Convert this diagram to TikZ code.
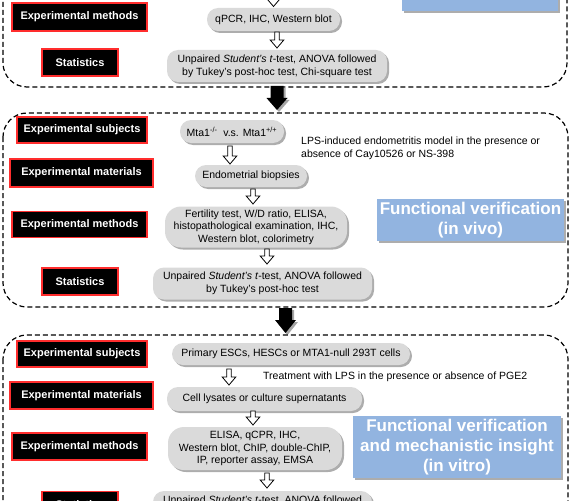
\documentclass[tikz,border=0pt]{standalone}
\usepackage{fontspec}
\setmainfont{Liberation Sans}
\usetikzlibrary{shadows}
\definecolor{redb}{RGB}{255,45,45}
\definecolor{pillgray}{RGB}{218,218,218}
\definecolor{bluebox}{RGB}{146,180,224}
\newcommand\harrow[3]{%
  \draw[hollowarrow] (#1-2.3,#2) -- (#1+2.3,#2) -- (#1+2.3,#3-8) -- (#1+6.8,#3-8) -- (#1,#3) -- (#1-6.8,#3-8) -- (#1-2.3,#3-8) -- cycle;}
\newcommand\bigarrow[4]{%
  \fill[black!35,xshift=2pt,yshift=-2pt] (#1-6.5,#2) -- (#1+6.5,#2) -- (#1+6.5,#3) -- (#1+10.5,#3) -- (#1,#4) -- (#1-10.5,#3) -- (#1-6.5,#3) -- cycle;
  \fill[black] (#1-6.5,#2) -- (#1+6.5,#2) -- (#1+6.5,#3) -- (#1+10.5,#3) -- (#1,#4) -- (#1-10.5,#3) -- (#1-6.5,#3) -- cycle;}
\begin{document}
\begin{tikzpicture}[x=1pt,y=-1pt,
  lbl/.style={draw=redb, line width=1.4pt, fill=black, text=white,
    font=\bfseries\fontsize{11}{13}\selectfont, inner sep=0pt},
  pill/.style={fill=pillgray, rounded corners=11pt, text=black, align=center,
    font=\fontsize{10.5}{12.6}\selectfont, inner sep=0pt,
    drop shadow={shadow xshift=2pt, shadow yshift=-2pt, fill=black!40, opacity=0.8}},
  bigpill/.style={pill, rounded corners=16pt},
  bluelbl/.style={fill=bluebox, text=white, align=center, inner sep=0pt,
    font=\bfseries\fontsize{17}{20}\selectfont,
    drop shadow={shadow xshift=2pt, shadow yshift=-2pt, fill=black!40, opacity=0.8}},
  plain/.style={align=left, inner sep=0pt, font=\fontsize{10.5}{13}\selectfont},
  dashbox/.style={draw=black, dash pattern=on 5pt off 3pt, line width=1.2pt, rounded corners=24pt},
  hollowarrow/.style={draw=black, fill=white, line width=0.8pt, line join=miter}
]
\useasboundingbox (0,0) rectangle (572,500);
\clip (0,0) rectangle (572,500);

% ---------- Section 1 (top, cut off) ----------
\draw[dashbox] (3,-150) rectangle (567,87);
\node[bluelbl, minimum width=156pt, minimum height=60pt] (blue1) at (480,-19) {};
\node[lbl, minimum width=135pt, minimum height=28pt] (em1) at (79.5,17) {Experimental methods};
\node[lbl, minimum width=76pt, minimum height=27pt] (st1) at (80,62.5) {Statistics};
\node[pill, minimum width=133pt, minimum height=23pt] (q1) at (273.5,19.5) {qPCR, IHC, Western blot};
\node[pill, minimum width=220pt, minimum height=32pt] (s1) at (277,66)
  {Unpaired \textit{Student's} \textit{t}-test, ANOVA followed\\by Tukey’s post-hoc test, Chi-square test};
\harrow{273.5}{-10}{6.5}
\harrow{277}{32}{48}

\bigarrow{277}{86}{98}{110}

% ---------- Section 2 (in vivo) ----------
\draw[dashbox] (3,113) rectangle (568,307);
\node[bluelbl, minimum width=187pt, minimum height=42pt] (blue2) at (470.5,220)
  {Functional verification\\(in vivo)};
\node[lbl, minimum width=130pt, minimum height=26pt] (es2) at (82,130) {Experimental subjects};
\node[pill, minimum width=104pt, minimum height=23pt] (m2) at (232,131.5)
  {Mta1\textsuperscript{-/-}\ \ v.s. Mta1\textsuperscript{+/+}};
\node[plain, anchor=west] (lps) at (301,148.5)
  {LPS-induced endometritis model in the presence or\\absence of Cay10526 or NS-398};
\harrow{230}{146}{164}
\node[lbl, minimum width=143pt, minimum height=28pt] (mat2) at (81.5,173) {Experimental materials};
\node[pill, minimum width=112pt, minimum height=22pt] (b2) at (251,176) {Endometrial biopsies};
\harrow{253}{189}{204}
\node[lbl, minimum width=135pt, minimum height=26pt] (em2) at (79.5,224.5) {Experimental methods};
\node[bigpill, minimum width=182pt, minimum height=41pt] (f2) at (256,227)
  {Fertility test, W/D ratio, ELISA,\\histopathological examination, IHC,\\Western blot, colorimetry};
\harrow{267}{249}{264}
\node[lbl, minimum width=76pt, minimum height=27pt] (st2) at (80,281.5) {Statistics};
\node[pill, minimum width=219pt, minimum height=32pt] (s2) at (262.5,283.5)
  {Unpaired \textit{Student's} \textit{t}-test, ANOVA followed\\by Tukey’s post-hoc test};

\bigarrow{285.5}{308}{320}{333}

% ---------- Section 3 (in vitro) ----------
\draw[dashbox] (3,335) rectangle (568,620);
\node[bluelbl, minimum width=208pt, minimum height=62pt] (blue3) at (457,447)
  {Functional verification\\and mechanistic insight\\(in vitro)};
\node[lbl, minimum width=130pt, minimum height=26pt] (es3) at (82,354) {Experimental subjects};
\node[pill, minimum width=238pt, minimum height=22pt] (p3) at (291,354)
  {Primary ESCs, HESCs or MTA1-null 293T cells};
\harrow{229}{369}{385}
\node[plain, anchor=west] (treat) at (263,377)
  {Treatment with LPS in the presence or absence of PGE2};
\node[lbl, minimum width=143pt, minimum height=27pt] (mat3) at (81.5,395.5) {Experimental materials};
\node[pill, minimum width=195pt, minimum height=24pt] (c3) at (264.5,399)
  {Cell lysates or culture supernatants};
\harrow{253}{411}{425}
\node[lbl, minimum width=135pt, minimum height=27pt] (em3) at (79.5,446.5) {Experimental methods};
\node[bigpill, minimum width=174pt, minimum height=43pt] (e3) at (255,448.5)
  {ELISA, qCPR, IHC,\\Western blot, ChIP, double-ChIP,\\IP, reporter assay, EMSA};
\harrow{267}{473}{488}
\node[lbl, minimum width=76pt, minimum height=27pt] (st3) at (80,505) {Statistics};
\node[pill, minimum width=219pt, minimum height=32pt] (s3) at (262.5,507)
  {Unpaired \textit{Student's} \textit{t}-test, ANOVA followed\\by Tukey’s post-hoc test};
\end{tikzpicture}
\end{document}
